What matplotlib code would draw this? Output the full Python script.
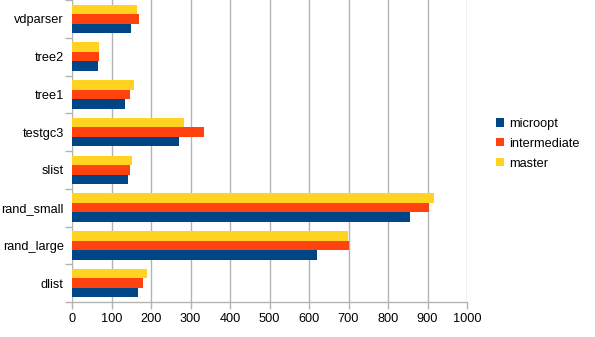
import numpy as np
import matplotlib
matplotlib.use("Agg")
import matplotlib.pyplot as plt
from matplotlib.patches import Patch

plt.rcParams['font.family'] = ['Liberation Sans', 'DejaVu Sans']

categories = ['dlist', 'rand_large', 'rand_small', 'slist', 'testgc3', 'tree1', 'tree2', 'vdparser']
microopt = [167, 620, 856, 142, 271, 134, 66, 149]
intermediate = [180, 701, 904, 146, 334, 146, 68, 170]
master = [190, 698, 916, 152, 284, 157, 68, 164]

series = ['microopt', 'intermediate', 'master']
colors = ['#004586', '#ff420e', '#ffd320']
grid_col = '#b3b3b3'

fig = plt.figure(figsize=(5.95, 3.37), dpi=100)
ax = fig.add_axes([72/595, 35/337, 395/595, 302/337])

y = np.arange(len(categories))
h = 0.25
for i, (vals, c) in enumerate(zip([microopt, intermediate, master], colors)):
    ax.barh(y + (i - 1) * h, vals, height=h, color=c, zorder=3)

ax.set_xlim(0, 1000)
ax.set_ylim(-0.5, len(categories) - 0.5)
ax.set_xticks(np.arange(0, 1001, 100))
ax.xaxis.grid(True, color=grid_col, linewidth=1.0, zorder=0)

# category boundaries as ticks, names as minor ticks
ax.set_yticks(np.arange(-0.5, len(categories), 1.0))
ax.set_yticklabels([])
ax.set_yticks(y, minor=True)
ax.set_yticklabels(categories, minor=True)
ax.tick_params(axis='y', which='major', length=5, width=1, color=grid_col)
ax.tick_params(axis='y', which='minor', length=0, pad=6, labelsize=9.2)
ax.tick_params(axis='x', length=5, width=1, color=grid_col, labelsize=9.2, pad=3)

for s in ['top', 'right', 'left']:
    ax.spines[s].set_visible(False)
ax.spines['bottom'].set_color(grid_col)
ax.spines['bottom'].set_linewidth(1.0)

handles = [Patch(facecolor=c, edgecolor='none') for c in colors]
fig.legend(handles, series, loc='center left', bbox_to_anchor=(496/595, 0.573),
           frameon=False, fontsize=9.2, handlelength=0.6, handleheight=0.6,
           handletextpad=0.4, labelspacing=0.62, borderpad=0, borderaxespad=0)

fig.savefig('out.png', dpi=100)
